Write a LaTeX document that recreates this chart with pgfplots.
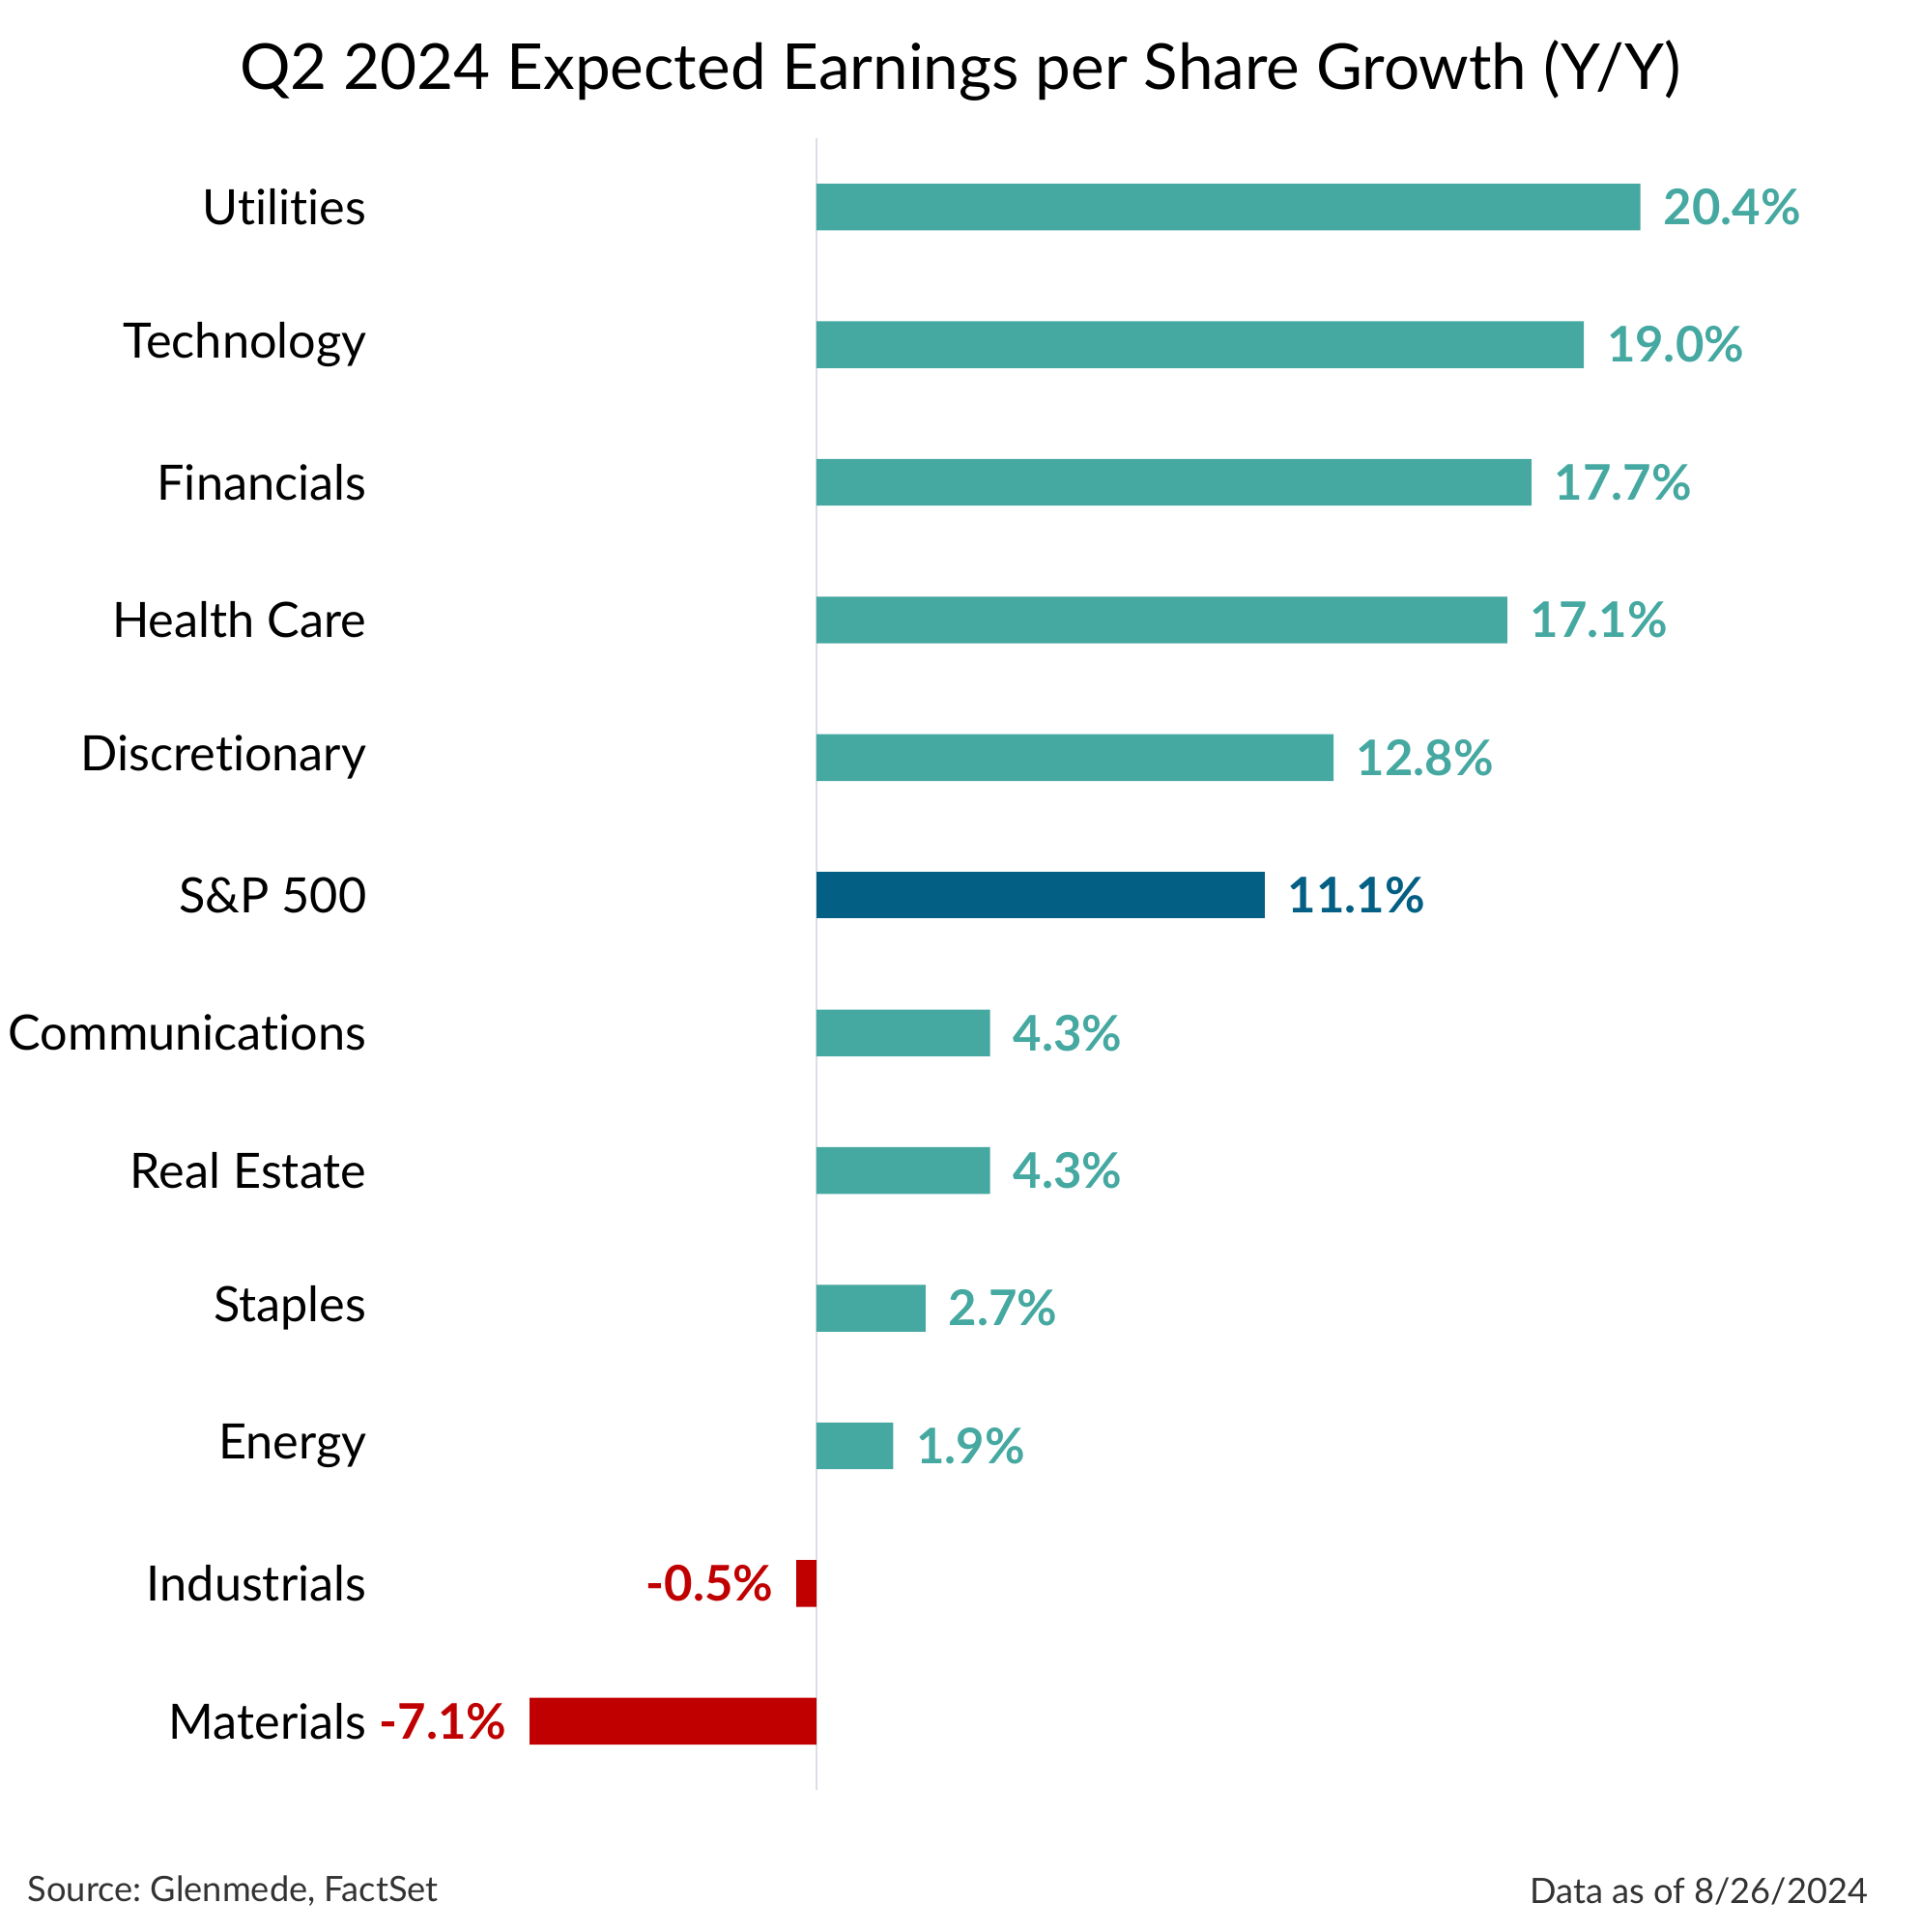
\documentclass[border=0pt]{standalone}
\usepackage{pgfplots}
\pgfplotsset{compat=1.18}
\usepackage{fontspec}
\setmainfont{Lato}[Ligatures={NoCommon}]
\frenchspacing
\definecolor{teal1}{HTML}{45A8A1}
\definecolor{spblue}{HTML}{035F83}
\definecolor{negred}{HTML}{C00000}
\definecolor{zeroline}{HTML}{D9DEE8}
\definecolor{foot}{HTML}{333333}
\begin{document}
\begin{tikzpicture}[x=1pt,y=1pt]
\path[use as bounding box] (0,0) rectangle (496.75,499.75);
\begin{axis}[
  at={(95pt,36.75pt)}, anchor=south west,
  scale only axis,
  width=398.4pt, height=427.25pt,
  xmin=-11.124, xmax=27,
  ymin=-0.5, ymax=11.5, y dir=reverse,
  axis lines=left, axis line style={draw=none,-},
  xtick=\empty,
  ytick={0,...,11},
  yticklabels={Utilities,Technology,Financials,Health Care,Discretionary,S\&P 500,Communications,Real Estate,Staples,Energy,Industrials,Materials},
  yticklabel style={anchor=east, inner sep=0pt, font=\fontsize{12.6}{14}\selectfont, text=black},
  major tick length=0pt,
  xbar, bar width=12.1pt,
  point meta=explicit symbolic,
  nodes near coords,
  clip=false,
]
\addplot[draw=zeroline, line width=0.6pt, forget plot, xbar=false, sharp plot, nodes near coords=] coordinates {(0,-0.5) (0,11.5)};
\addplot[fill=teal1, draw=none, bar shift=0pt,
  every node near coord/.style={anchor=west, inner sep=0pt, xshift=5.75pt, text=teal1, font=\fontsize{12.7}{14}\selectfont\bfseries}]
  coordinates {(20.4,0) [20.4\%] (19.0,1) [19.0\%] (17.7,2) [17.7\%] (17.1,3) [17.1\%] (12.8,4) [12.8\%]
               (4.3,6) [4.3\%] (4.3,7) [4.3\%] (2.7,8) [2.7\%] (1.9,9) [1.9\%]};
\addplot[fill=spblue, draw=none, bar shift=0pt,
  every node near coord/.style={anchor=west, inner sep=0pt, xshift=5.75pt, text=spblue, font=\fontsize{12.7}{14}\selectfont\bfseries}]
  coordinates {(11.1,5) [11.1\%]};
\addplot[fill=negred, draw=none, bar shift=0pt,
  every node near coord/.style={anchor=east, inner sep=0pt, xshift=-5.75pt, text=negred, font=\fontsize{12.7}{14}\selectfont\bfseries}]
  coordinates {(-0.5,10) [-0.5\%] (-7.1,11) [-7.1\%]};
\end{axis}
\node[anchor=center, font=\fontsize{16.4}{19}\selectfont] at (248.5,481.5) {Q2 2024 Expected Earnings per Share Growth (Y/Y)};
\node[anchor=west, inner sep=0pt, text=foot, font=\fontsize{9.05}{11}\selectfont] at (7,10.5) {Source: Glenmede, FactSet};
\node[anchor=east, inner sep=0pt, text=foot, font=\fontsize{9.05}{11}\selectfont] at (483.5,10.5) {Data as of 8/26/2024};
\end{tikzpicture}
\end{document}
